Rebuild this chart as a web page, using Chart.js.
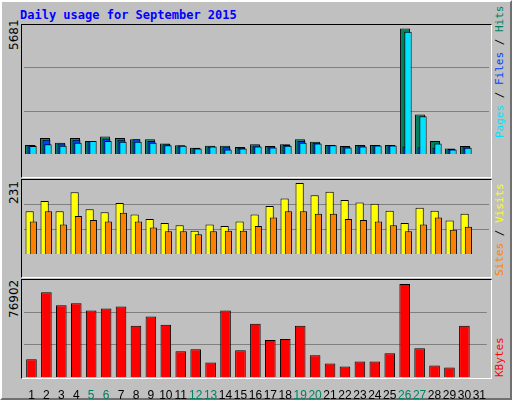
<!DOCTYPE html>
<html>
<head>
<meta charset="utf-8">
<script src="https://cdn.jsdelivr.net/npm/chart.js@4"></script>
<style>
  body { margin: 0; background: #c0c0c0; }
  #frame { position: absolute; left: 0; top: 0; width: 508px; height: 396px; background: #c0c0c0;
    border-style: solid; border-width: 2px; border-color: #ffffff #707070 #707070 #ffffff; }
  .panel { position: absolute; left: 21px; width: 469px; background: #c0c0c0;
    border-style: solid; border-width: 1px; border-color: #000 #fff #fff #000; }
  .cv { position: absolute; left: 24px; }
  #title { position: absolute; left: 20px; top: 8px; font: bold 12px "DejaVu Sans Mono", monospace; color: #0000ff; }
  .ylab { position: absolute; left: 7px; font: 12px "DejaVu Sans", sans-serif; color: #000;
    transform-origin: left top; transform: rotate(-90deg); white-space: nowrap; }
  .rlab { position: absolute; left: 493px; font: 11px "DejaVu Sans Mono", monospace;
    transform-origin: left top; transform: rotate(-90deg); white-space: nowrap; }
</style>
</head>
<body>
<div id="frame"></div>
<div id="title">Daily usage for September 2015</div>
<div class="panel" style="top:24px;height:152px"></div>
<div class="panel" style="top:179px;height:97px"></div>
<div class="panel" style="top:279px;height:98px"></div>
<div class="cv" style="top:25px"><canvas id="c1"></canvas></div>
<div class="cv" style="top:180px"><canvas id="c2"></canvas></div>
<div class="cv" style="top:280px"><canvas id="c3"></canvas></div>
<div class="ylab" style="top:50px">5681</div>
<div class="ylab" style="top:204px">231</div>
<div class="ylab" style="top:318px">76902</div>
<div class="rlab" style="top:138px"><span style="color:#00e0ff">Pages</span> / <span style="color:#0040ff">Files</span> / <span style="color:#008060">Hits</span></div>
<div class="rlab" style="top:276px"><span style="color:#ff8000">Sites</span> / <span style="color:#ffff00">Visits</span></div>
<div class="rlab" style="top:377px"><span style="color:#ff0000">KBytes</span></div>
<script>
// 数据
const days = Array.from({ length: 31 }, (_, i) => String(i + 1));
const weekendDays = ['5', '6', '12', '13', '19', '20', '26', '27'];

const hits  = [411, 720, 514, 720, 591, 797, 720, 668, 668, 475, 398, 283, 373, 373, 321, 437, 360, 437, 668, 553, 411, 360, 411, 411, 411, 5681, 1786, 591, 244, 360, 0];
const files = [411, 643, 475, 643, 591, 694, 643, 668, 591, 437, 385, 270, 334, 308, 283, 385, 334, 411, 591, 514, 411, 334, 385, 398, 398, 334, 308, 283, 231, 334, 0];
const pages = [360, 437, 373, 514, 591, 591, 553, 553, 514, 398, 373, 244, 334, 206, 244, 334, 296, 373, 514, 475, 398, 296, 334, 385, 385, 5526, 1709, 475, 206, 283, 0];

const visits = [139, 173, 139, 201, 146, 136, 166, 129, 114, 101, 94, 76, 96, 91, 106, 129, 156, 181, 231, 191, 203, 176, 168, 164, 141, 101, 151, 141, 109, 131, 0];
const sites  = [106, 139, 96, 124, 111, 106, 134, 106, 86, 74, 74, 64, 74, 76, 76, 91, 119, 139, 139, 131, 131, 114, 111, 106, 94, 74, 96, 119, 79, 89, 0];

const kbytes = [14596, 70175, 59228, 60912, 55017, 56701, 58386, 42386, 49965, 43228, 21333, 23017, 12070, 55017, 22175, 44070, 30596, 31438, 42386, 17965, 11228, 8702, 12912, 12912, 19649, 76902, 23860, 9544, 7860, 42386, 0];

// 让后面的数据集画在上面（webalizer 的叠放效果）
const drawInOrder = {
  id: 'drawInOrder',
  beforeDatasetDraw: () => false,
  afterDatasetsDraw(chart) {
    chart.data.datasets.forEach((ds, i) => chart.getDatasetMeta(i).controller.draw());
  }
};

function makeChart(id, height, datasets, max, showX, catPct) {
  const cv = document.getElementById(id);
  cv.style.width = '465px';
  cv.style.height = height + 'px';
  return new Chart(cv, {
    type: 'bar',
    data: { labels: days, datasets },
    plugins: [drawInOrder],
    options: {
      responsive: false,
      animation: false,
      devicePixelRatio: 1,
      layout: { padding: 0 },
      datasets: { bar: { categoryPercentage: catPct, borderWidth: 1, borderColor: '#000' } },
      scales: {
        x: {
          display: showX,
          grid: { display: false },
          border: { display: false },
          afterFit: axis => { axis.height = 22; },
          ticks: {
            autoSkip: false, maxRotation: 0, padding: 3,
            font: { family: 'Liberation Sans', size: 12 },
            color: ctx => weekendDays.includes(days[ctx.index]) ? '#008060' : '#000'
          }
        },
        y: {
          min: 0, max,
          ticks: { display: false },
          border: { display: false },
          grid: { drawTicks: false, color: '#808080', lineWidth: 1 },
          afterFit: axis => { axis.width = 0; },
          afterBuildTicks: axis => { axis.ticks = [{ value: max / 3 }, { value: max * 2 / 3 }]; }
        }
      },
      plugins: { legend: { display: false }, tooltip: { enabled: false } }
    }
  });
}

makeChart('c1', 151, [
  { data: hits, backgroundColor: '#008060', barPercentage: 6.6 },
  { data: files, backgroundColor: '#0040ff', barPercentage: 5.3 },
  { data: pages, backgroundColor: '#00e0ff', barPercentage: 4.9 }
], 5681 * 151 / 147, false, 0.3);

makeChart('c2', 96, [
  { data: visits, backgroundColor: '#ffff00', barPercentage: 2.2 },
  { data: sites, backgroundColor: '#ff8000', barPercentage: 1.9 }
], 231 * 96 / 92, false, 0.5);

makeChart('c3', 97 + 22, [
  { data: kbytes, backgroundColor: '#ff0000', barPercentage: 0.71 }
], 76902 * 97 / 93, true, 1);
</script>
</body>
</html>
